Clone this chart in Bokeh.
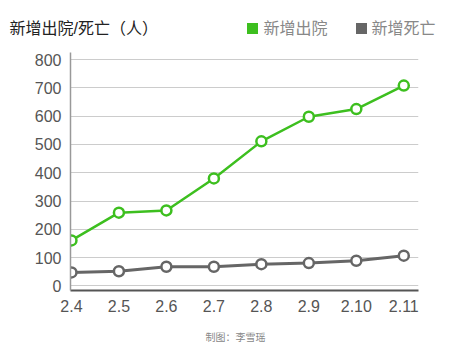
from bokeh.plotting import figure
from bokeh.models import FixedTicker, Range1d
from bokeh.layouts import column
from bokeh.core.properties import value
from bokeh.embed import file_html
from bokeh.resources import INLINE

dates = ["2.4", "2.5", "2.6", "2.7", "2.8", "2.9", "2.10", "2.11"]
discharged = [161, 259, 267, 380, 511, 598, 625, 708]
deaths = [48, 52, 68, 68, 77, 81, 89, 107]
yticks = [0, 100, 200, 300, 400, 500, 600, 700, 800]
title_text = "新增出院/死亡（人）"
series_names = ["新增出院", "新增死亡"]
credit = "制图：李雪瑶"

GREEN = "#3dbf1f"
GRAY = "#666666"
FONT = "Liberation Sans, Noto Sans CJK SC"
W = 450


def blank(height):
    f = figure(width=W, height=height, output_backend="svg", toolbar_location=None,
               x_range=Range1d(0, W), y_range=Range1d(0, height),
               x_axis_type=None, y_axis_type=None, min_border=0, frame_align=False)
    f.outline_line_color = None
    f.xgrid.grid_line_color = None
    f.ygrid.grid_line_color = None
    f.border_fill_color = "white"
    return f


# header: title + legend
head = blank(52)
head.text([9], [24], text=[title_text], text_font=value(FONT), text_font_size="16px",
          text_color="#222222", text_baseline="middle")
head.scatter([252, 361], [24, 24], marker="square", size=11, fill_color=[GREEN, GRAY], line_color=None)
head.text([263, 371], [24, 24], text=series_names, text_font=value(FONT), text_font_size="16px",
          text_color="#888888", text_baseline="middle")

# main chart
xs = list(range(len(dates)))
p = figure(width=W, height=280, output_backend="svg", toolbar_location=None,
           x_range=Range1d(-0.02, 7.31), y_range=Range1d(-16, 825), frame_align=False,
           min_border_left=70, min_border_right=32, min_border_top=0, min_border_bottom=42)
p.outline_line_color = None
p.background_fill_color = "white"
p.border_fill_color = "white"

p.xgrid.grid_line_color = None
p.ygrid.grid_line_color = "#cccccc"
p.ygrid.grid_line_width = 1
p.yaxis.ticker = FixedTicker(ticks=yticks)
p.xaxis.ticker = FixedTicker(ticks=xs)
p.xaxis.major_label_overrides = {i: d for i, d in enumerate(dates)}

for ax in (p.xaxis[0], p.yaxis[0]):
    ax.major_tick_line_color = None
    ax.minor_tick_line_color = None
    ax.major_label_text_font = FONT
    ax.major_label_text_font_size = "16px"
    ax.major_label_text_color = "#555555"
p.yaxis.axis_line_color = "#999999"
p.yaxis.axis_line_width = 1.5
p.yaxis.major_label_standoff = 3
p.xaxis.axis_line_color = "#555555"
p.xaxis.axis_line_width = 2
p.xaxis.major_label_standoff = 3

p.line(xs, discharged, line_color=GREEN, line_width=2.5)
p.scatter(xs, discharged, size=10, fill_color="white", line_color=GREEN, line_width=2.5)
p.line(xs, deaths, line_color=GRAY, line_width=3)
p.scatter(xs, deaths, size=10, fill_color="white", line_color=GRAY, line_width=2.5)

# footer: credit
foot = blank(24)
foot.text([235], [19], text=[credit], text_font=value(FONT), text_font_size="10px",
          text_color="#888888", text_align="center", text_baseline="middle")

layout = column(head, p, foot, spacing=0)
open("out.html", "w").write(file_html(layout, INLINE))
